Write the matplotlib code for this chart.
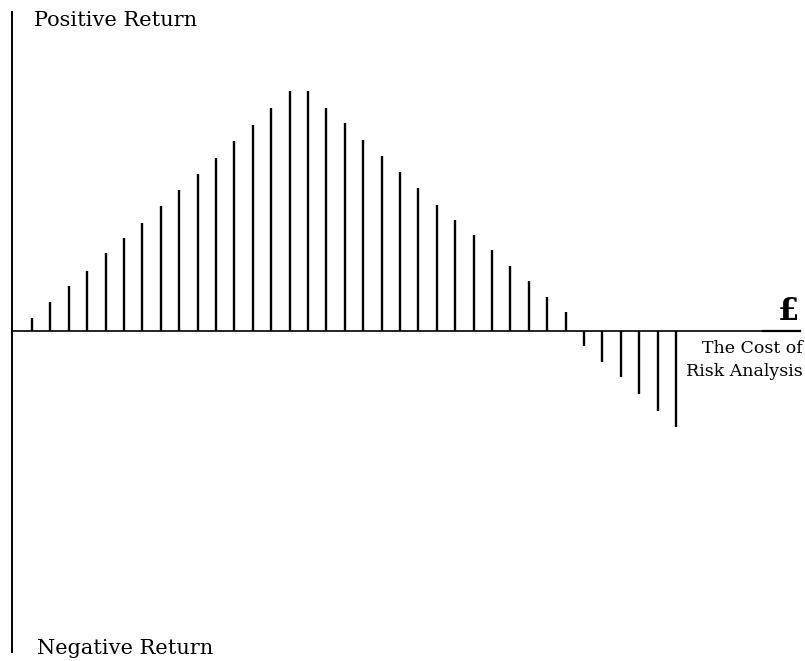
import matplotlib
matplotlib.use("Agg")
import matplotlib.pyplot as plt
import numpy as np

# Return on each successive increment of spending on risk analysis
returns = [13, 29, 45, 60, 78, 93, 108, 125, 141, 157, 173, 190, 206, 223, 240,
           240, 223, 208, 191, 175, 159, 143, 126, 111, 96, 81, 65, 50, 34, 19,
           -15, -31, -46, -63, -80, -96]
y_top_label = "Positive Return"
y_bottom_label = "Negative Return"
x_label = "The Cost of\nRisk Analysis"
currency = "£"

W, H = 805, 661
fig = plt.figure(figsize=(W / 100, H / 100), dpi=100)
ax = fig.add_axes([0, 0, 1, 1])

# pixel layout: first bar at x=32, spacing 18.4 px, baseline at y=331
step = 18.4
x0_px = 32
base_px = 331
ax.set_xlim(-x0_px / step, (W - x0_px) / step)
ax.set_ylim(-(H - base_px), base_px)
ax.axis("off")

def px_x(p):
    return (p - x0_px) / step

def px_y(p):
    return base_px - p

idx = np.arange(len(returns))
ax.vlines(idx, 0, returns, colors="black", linewidth=1.7)

# axes drawn by hand
ax.plot([px_x(12), px_x(12)], [px_y(11), px_y(653)], color="black", lw=1.4,
        solid_capstyle="butt")
ax.plot([px_x(12), px_x(800)], [0, 0], color="black", lw=1.2)
ax.plot([px_x(763), px_x(800)], [0.5, 0.5], color="black", lw=1.6)

serif = ["DejaVu Serif"]
ax.text(px_x(34), px_y(21), y_top_label, fontsize=15, family=serif,
        ha="left", va="center")
ax.text(px_x(37), px_y(648), y_bottom_label, fontsize=15, family=serif,
        ha="left", va="center")
ax.text(px_x(803), px_y(360), x_label, fontsize=12.5, family=serif,
        ha="right", va="center", linespacing=1.45)
ax.text(px_x(799), px_y(311), currency, fontsize=22, family=serif,
        fontweight="bold", ha="right", va="center")

fig.savefig("out.png", dpi=100, facecolor="white")
